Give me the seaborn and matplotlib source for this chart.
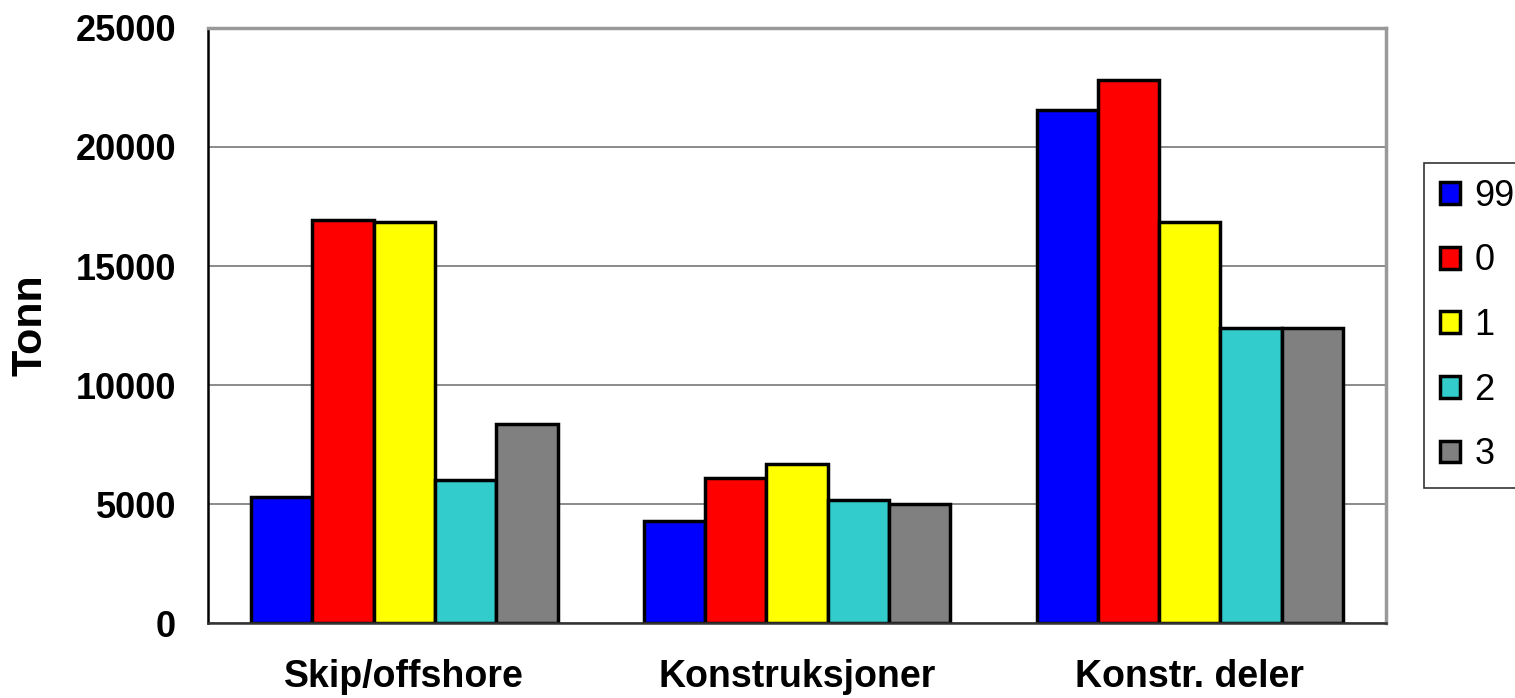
import matplotlib

matplotlib.use("Agg")
import matplotlib.pyplot as plt
import numpy as np
import pandas as pd
import seaborn as sns

categories = ["Skip/offshore", "Konstruksjoner", "Konstr. deler"]
years = ["99", "0", "1", "2", "3"]
values_99 = [5300, 4300, 21550]
values_0 = [16950, 6100, 22800]
values_1 = [16850, 6700, 16850]
values_2 = [6000, 5150, 12400]
values_3 = [8350, 5000, 12400]
colors = ["#0000FF", "#FF0000", "#FFFF00", "#33CCCC", "#808080"]

rows = []
for year, vals in zip(years, [values_99, values_0, values_1, values_2, values_3]):
    for cat, v in zip(categories, vals):
        rows.append({"category": cat, "year": year, "tonn": v})
df = pd.DataFrame(rows)

sns.set_style("white")
plt.rcParams["font.family"] = ["Liberation Sans", "DejaVu Sans"]
plt.rcParams["text.color"] = "black"
plt.rcParams["xtick.color"] = "black"
plt.rcParams["ytick.color"] = "black"
plt.rcParams["axes.labelcolor"] = "black"

fig = plt.figure(figsize=(15.15, 6.98), dpi=100)
ax = fig.add_axes([0.1373, 0.1074, 0.7776, 0.8525])

sns.barplot(
    data=df, x="category", y="tonn", hue="year", hue_order=years, order=categories,
    palette=colors, edgecolor="black", linewidth=2.5, width=0.78, saturation=1,
    ax=ax, legend=True,
)

ax.set_xlim(-0.5, 2.5)
ax.set_ylim(0, 25000)
ax.set_yticks(np.arange(0, 25001, 5000))
ax.yaxis.grid(True, color="#777777", linewidth=1.2)
ax.set_axisbelow(True)

for side in ["top", "right"]:
    ax.spines[side].set_visible(True)
    ax.spines[side].set_color("#999999")
    ax.spines[side].set_linewidth(2.5)
ax.spines["left"].set_color("black")
ax.spines["left"].set_linewidth(1.8)
ax.spines["bottom"].set_color("#333333")
ax.spines["bottom"].set_linewidth(1.8)

ax.tick_params(axis="y", which="major", direction="out", length=11, width=1.2,
               color="#333333", labelcolor="black", labelsize=26, pad=12)
ax.tick_params(axis="x", which="major", length=0, labelsize=26, labelcolor="black", pad=26)
ax.set_xticks([-0.5, 0.5, 1.5, 2.5], minor=True)
ax.tick_params(axis="x", which="minor", direction="out", length=10, width=1.2, color="#333333")
for lab in ax.get_yticklabels():
    lab.set_fontweight("bold")
for lab in ax.get_xticklabels():
    lab.set_fontweight("bold")
    lab.set_fontsize(27)

ax.set_xlabel("")
ax.set_ylabel("Tonn", fontsize=31, fontweight="bold", labelpad=18, color="black")

handles, labels = ax.get_legend_handles_labels()
ax.legend(
    handles, labels, loc="center left", bbox_to_anchor=(1.032, 0.5), frameon=True,
    fancybox=False, edgecolor="black", fontsize=26, handlelength=0.55, handleheight=0.55,
    handletextpad=0.4, labelspacing=0.82, borderpad=0.45, borderaxespad=0,
)
leg = ax.get_legend()
leg.get_frame().set_linewidth(1.2)
for t in leg.get_texts():
    t.set_color("black")

fig.savefig("out.png", dpi=100)
